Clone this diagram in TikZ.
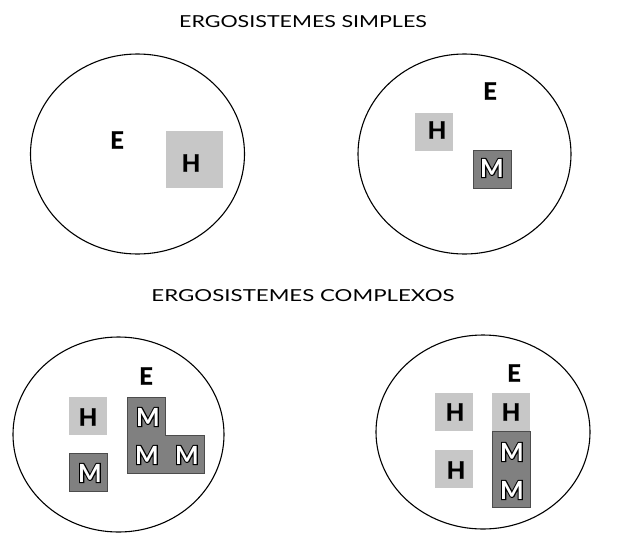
\documentclass[tikz,border=0pt]{standalone}
\usepackage{fontspec}
\setmainfont{Lato}
\newfontfamily\heavyfont{Lato}[BoldFeatures={FakeBold=1.2}]
\usetikzlibrary{shapes.geometric}
\definecolor{hgray}{gray}{0.78}
\definecolor{mgray}{gray}{0.50}
\tikzset{
  world/.style={ellipse, draw=black, line width=1.1pt, inner sep=0pt},
  title/.style={font=\fontsize{16.5}{18}\selectfont},
  hbox/.style={fill=hgray, inner sep=0pt, minimum size=38pt},
  mbox/.style={fill=mgray, draw=black!70, line width=0.8pt, inner sep=0pt, minimum size=38pt},
  eltr/.style={font=\heavyfont\bfseries\fontsize{24}{24}\selectfont, inner sep=0pt},
  mltr/.style={font=\bfseries\fontsize{25}{25}\selectfont, inner sep=0pt, text=white},
}
% white letter with a black outline: a stroked copy underneath, a plain white one on top
\newcommand{\mlet}{\rlap{\special{pdf:literal direct 2 Tr 2.2 w 0 G}M\special{pdf:literal direct 0 Tr}}M}
\begin{document}
\begin{tikzpicture}[x=1pt, y=-1pt]
\useasboundingbox (0,0) rectangle (631,533);

% headings
\node[title] (t1) at (303,22) {\scalebox{1.3}[1]{ERGOSISTEMES SIMPLES}};
\node[title] (t2) at (303,296) {\scalebox{1.35}[1]{ERGOSISTEMES COMPLEXOS}};

% simple system: environment with one human
\node[world, minimum width=214pt, minimum height=200pt] (w1) at (137.5,154) {};
\node[eltr] (e1) at (117,140) {E};
\node[hbox, minimum size=57pt] (h1) at (194.5,159.5) {};
\node[eltr] (h1l) at (191,163) {H};

% simple system: human and machine
\node[world, minimum width=213pt, minimum height=200pt] (w2) at (464.5,154) {};
\node[eltr] (e2) at (490,91) {E};
\node[hbox] (h2) at (434,131.5) {};
\node[eltr] (h2l) at (437,130) {H};
\node[mbox] (m2) at (492.5,169.5) {};
\node[mltr] (m2l) at (492,168) {\mlet};

% complex system: one human, several machines
\node[world, minimum width=211pt, minimum height=195pt] (w3) at (118.5,434.5) {};
\node[eltr] (e3) at (146,376) {E};
\node[hbox] (h3) at (88,415.5) {};
\node[eltr] (h3l) at (88,417) {H};
\node[mbox] (m3) at (88.5,472) {};
\node[mltr] (m3l) at (90,473) {\mlet};
\coordinate (la) at (127,397);
\coordinate (lb) at (165,397);
\coordinate (lc) at (165,435);
\coordinate (ld) at (204,435);
\coordinate (le) at (204,473);
\coordinate (lf) at (127,473);
\filldraw[fill=mgray, draw=black!70, line width=0.8pt]
  (la) -- (lb) -- (lc) -- (ld) -- (le) -- (lf) -- cycle;
\node[mltr] (m4l) at (148,417) {\mlet};
\node[mltr] (m5l) at (147,455) {\mlet};
\node[mltr] (m6l) at (187,455) {\mlet};

% complex system: several humans and machines
\node[world, minimum width=214pt, minimum height=194pt] (w4) at (483,432) {};
\node[eltr] (e4) at (514,373) {E};
\node[hbox] (h4) at (453.5,412) {};
\node[eltr] (h4l) at (455,412) {H};
\node[hbox] (h5) at (453.5,468.5) {};
\node[eltr] (h5l) at (456,470) {H};
\node[hbox] (h6) at (511,412) {};
\node[eltr] (h6l) at (511,412) {H};
\node[mbox, minimum width=38pt, minimum height=76pt] (m7) at (511,469) {};
\node[mltr] (m7l) at (512,452) {\mlet};
\node[mltr] (m8l) at (512,490) {\mlet};
\end{tikzpicture}
\end{document}
